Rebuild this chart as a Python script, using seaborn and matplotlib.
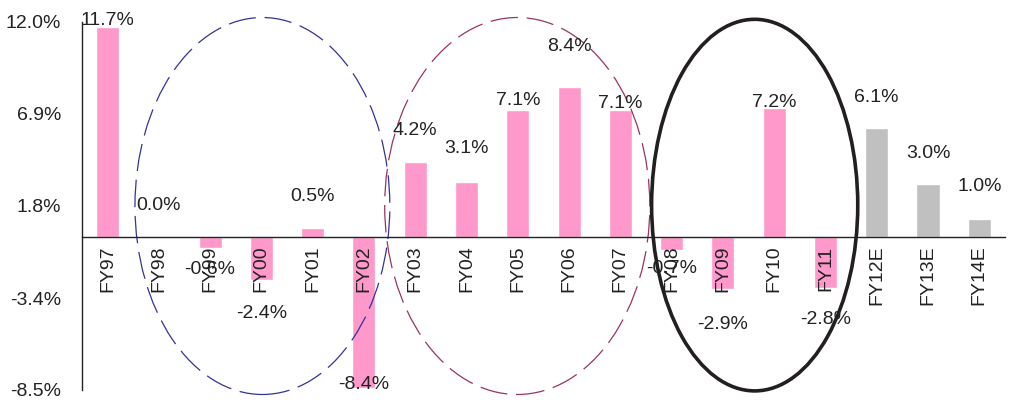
import matplotlib
matplotlib.use("Agg")
import matplotlib.pyplot as plt
from matplotlib.patches import Ellipse
import seaborn as sns
import numpy as np

# chart data
years = ["FY97", "FY98", "FY99", "FY00", "FY01", "FY02", "FY03", "FY04", "FY05",
         "FY06", "FY07", "FY08", "FY09", "FY10", "FY11", "FY12E", "FY13E", "FY14E"]
growth = [11.7, 0.0, -0.6, -2.4, 0.5, -8.4, 4.2, 3.1, 7.1,
          8.4, 7.1, -0.7, -2.9, 7.2, -2.8, 6.1, 3.0, 1.0]
is_estimate = [False] * 15 + [True] * 3
y_ticks = [-8.5, -3.4, 1.8, 6.9, 12.0]

# label centre distance from bar end, in points (labels were hand placed in the original)
label_gap = [5, 23, 15, 24, 23, -3, 23, 24, 7, 29, 5, 13, 25, 4, 23, 22, 22, 24]

sns.set_style("white")
plt.rcParams['font.family'] = ['Liberation Sans Narrow', 'Liberation Sans', 'DejaVu Sans']
plt.rcParams['font.size'] = 14

fig = plt.figure(figsize=(10.11, 4.0), dpi=100)
ax = fig.add_axes([0.081, 0.025, 0.913, 0.92])

colors = ['#C0C0C0' if e else '#FF99CC' for e in is_estimate]
sns.barplot(x=years, y=growth, hue=years, palette=colors, legend=False,
            width=0.45, saturation=1, ax=ax)

ax.set_xlim(-0.5, len(years) - 0.5)
ax.set_ylim(-8.5, 12.0)
ax.set_axisbelow(False)

# value labels
for i, (v, g) in enumerate(zip(growth, label_gap)):
    sign = 1 if v >= 0 else -1
    ax.annotate(f"{v:.1f}%", (i, v), xytext=(0, sign * g), textcoords='offset points',
                ha='center', va='center', color='#222222')

# axes styling
for s in ['top', 'right']:
    ax.spines[s].set_visible(False)
ax.spines['bottom'].set_position(('data', 0))
ax.spines['bottom'].set_color('#222222')
ax.spines['left'].set_color('#222222')
ax.spines['bottom'].set_linewidth(1.0)
ax.spines['left'].set_linewidth(1.0)

ax.set_yticks(y_ticks)
ax.set_yticklabels([f"{t:.1f}%" for t in y_ticks])
ax.tick_params(axis='y', length=0, pad=15, colors='#222222')
ax.tick_params(axis='x', which='major', length=0, pad=6, colors='#222222')
ax.set_xticks(range(len(years)))
ax.set_xticklabels(years, rotation=90, va='top')
ax.set_xticks(np.arange(0.5, len(years), 1.0), minor=True)
ax.tick_params(axis='x', which='minor', length=4, width=1, direction='out', color='#222222')
ax.set_xlabel('')
ax.set_ylabel('')

# highlight ellipses
ax.add_patch(Ellipse((3.02, 1.75), 4.97, 21.0, fill=False, edgecolor='#333399',
                     linewidth=0.9, linestyle=(0, (22, 7)), clip_on=False))
ax.add_patch(Ellipse((7.99, 1.75), 5.17, 21.0, fill=False, edgecolor='#993366',
                     linewidth=0.9, linestyle=(0, (22, 7)), clip_on=False))
ax.add_patch(Ellipse((12.62, 1.8), 4.02, 20.7, fill=False, edgecolor='#231F20',
                     linewidth=2.6, clip_on=False))

fig.savefig("out.png", dpi=100)
